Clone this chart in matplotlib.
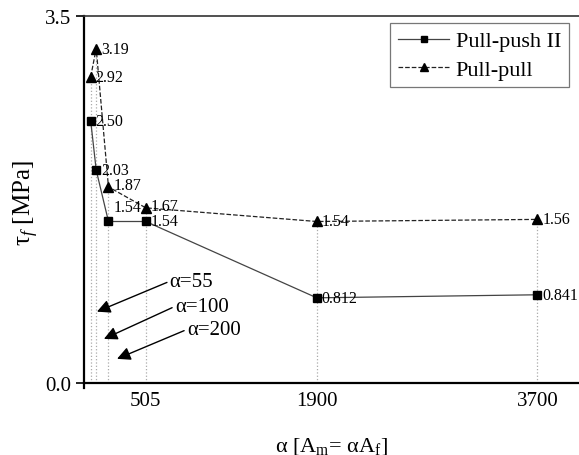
import numpy as np
import matplotlib
matplotlib.use("Agg")
import matplotlib.pyplot as plt

plt.rcParams['font.family'] = ['Liberation Serif', 'DejaVu Serif']
plt.rcParams['mathtext.fontset'] = 'custom'
plt.rcParams['mathtext.rm'] = 'Liberation Serif'
plt.rcParams['mathtext.it'] = 'Liberation Serif:italic'

# data
alpha = [55, 100, 200, 505, 1900, 3700]
push = [2.50, 2.03, 1.54, 1.54, 0.812, 0.841]
pull = [2.92, 3.19, 1.87, 1.67, 1.54, 1.56]
push_labels = ['2.50', '2.03', '1.54', '1.54', '0.812', '0.841']
pull_labels = ['2.92', '3.19', '1.87', '1.67', '1.54', '1.56']
xticks = [505, 1900, 3700]

# annotation arrows: text, text position, arrow tip
notes = ['α=55', 'α=100', 'α=200']
note_text_xy = [(700, 0.97), (742, 0.73), (840, 0.51)]
note_tip_xy = [(106, 0.68), (163, 0.42), (270, 0.23)]

fig = plt.figure(figsize=(5.79, 4.56), dpi=100)
ax = fig.add_axes([0.145, 0.1465, 0.855, 0.8162])

# dotted guide lines up to the higher point
for a, p1, p2 in zip(alpha, push, pull):
    ax.plot([a, a], [0, max(p1, p2)], color='#aaaaaa', lw=0.9, ls=':', zorder=1)

ax.plot(alpha, push, color='#444444', lw=0.9, ls='-', marker='s', mfc='black',
        mec='black', ms=6, label='Pull-push II', zorder=3)
ax.plot(alpha, pull, color='#222222', lw=0.9, ls='--', marker='^', mfc='black',
        mec='black', ms=7, label='Pull-pull', zorder=3)

for i, (a, v) in enumerate(zip(alpha, push)):
    off = (5, 14) if i == 2 else (5, 0)
    ax.annotate(push_labels[i], (a, v), xytext=off, textcoords='offset pixels',
                ha='left', va='center', fontsize=11.5, zorder=4)
for i, (a, v) in enumerate(zip(alpha, pull)):
    off = (5, 2) if i in (2, 3) else (5, 0)
    ax.annotate(pull_labels[i], (a, v), xytext=off, textcoords='offset pixels',
                ha='left', va='center', fontsize=11.5, zorder=4)

for t, txy, tip in zip(notes, note_text_xy, note_tip_xy):
    ax.annotate(t, xy=tip, xytext=txy, ha='left', va='center', fontsize=15,
                arrowprops=dict(arrowstyle='-|>', color='black', lw=1,
                                mutation_scale=20, shrinkA=0, shrinkB=0,
                                relpos=(0, 0.5)))

ax.set_xlim(0, 4040)
ax.set_ylim(-0.05, 3.5)
ax.spines['bottom'].set_position(('data', 0))
ax.spines['right'].set_visible(False)
ax.spines['left'].set_linewidth(1.6)
ax.spines['bottom'].set_linewidth(1.6)
ax.spines['top'].set_linewidth(1.2)
ax.spines['top'].set_color('#333333')

ax.set_xticks(xticks)
ax.set_xticklabels([str(x) for x in xticks])
ax.tick_params(axis='x', length=0, pad=6, labelsize=15)
ax.set_yticks([0.0, 3.5])
ax.set_yticklabels(['0.0', '3.5'])
ax.tick_params(axis='y', direction='out', length=6, width=1.2, pad=3, labelsize=15)

ax.set_xlabel('α [A$_\\mathrm{m}$= αA$_\\mathrm{f}$]', fontsize=16, labelpad=18)
ax.set_ylabel('τ$_{f}$ [MPa]', fontsize=18, labelpad=3)

leg = ax.legend(loc='upper right', bbox_to_anchor=(569 / 579, (456 - 24) / 456),
                bbox_transform=fig.transFigure, borderaxespad=0, fontsize=16,
                fancybox=False, framealpha=1, edgecolor='#777777',
                handlelength=2.3, handletextpad=0.3, borderpad=0.35,
                labelspacing=0.35, markerscale=0.75)
leg.get_frame().set_linewidth(0.9)

fig.savefig('out.png', dpi=100)
